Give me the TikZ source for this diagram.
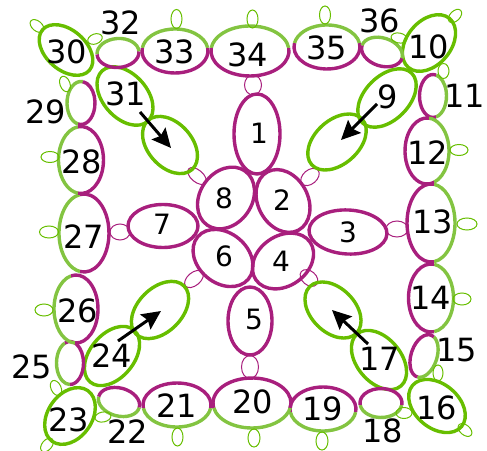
\documentclass[tikz,border=0pt]{standalone}
\usepackage{fontspec}
\setmainfont{DejaVu Sans}
\usetikzlibrary{arrows.meta}
\definecolor{mag}{HTML}{A81F7D}
\definecolor{lgr}{HTML}{83C441}
\definecolor{dgr}{HTML}{67BE00}
\tikzset{
  thickring/.style={line width=3.4pt},
  thinring/.style={line width=1pt},
  biglab/.style={inner sep=0pt,font=\fontsize{32}{32}\selectfont,text=black},
  smalllab/.style={inner sep=0pt,font=\fontsize{28}{28}\selectfont,text=black},
  pointer/.style={line width=3pt,-{Stealth[length=19pt,width=18pt,inset=3pt]}}
}
% whole ring: x y rx ry rot style
\newcommand\ring[6]{\draw[#6,shift={(#1,{450-#2})},rotate=#5] (0,0) circle[x radius=#3pt,y radius=#4pt];}
% two-tone ring: x y rx ry rot a1 a2
\newcommand\duo[7]{%
  \begin{scope}[shift={(#1,{450-#2})},rotate=#5]
  \draw[thickring,lgr] (#7:#3pt and #4pt) arc[start angle=#7,delta angle={360-(#7-#6)},x radius=#3pt,y radius=#4pt];
  \draw[thickring,mag] (#6:#3pt and #4pt) arc[start angle=#6,end angle=#7,x radius=#3pt,y radius=#4pt];
  \end{scope}}
\newcommand\lab[5][biglab]{\node[#1] (#2) at (#3,{450-#4}) {#5};}
\begin{document}
\begin{tikzpicture}[x=1pt,y=1pt]
\useasboundingbox (0,0) rectangle (487,450);
% centre flower
\ring{257}{134}{23}{40}{0}{thickring,mag}
\ring{283}{201}{33}{25}{-62}{thickring,mag}
\ring{348}{232}{39}{22}{-3}{thickring,mag}
\ring{283}{261}{33}{25}{35}{thickring,mag}
\ring{250}{321}{22}{34}{0}{thickring,mag}
\ring{223}{258}{33}{25}{-40}{thickring,mag}
\ring{163}{226}{35}{21.5}{0}{thickring,mag}
\ring{226}{198}{33}{26}{55}{thickring,mag}
% magenta thin loops
\ring{253}{85}{8.5}{10}{0}{thinring,mag}
\ring{397}{229}{11}{8}{0}{thinring,mag}
\ring{309}{278}{10}{7}{-40}{thinring,mag}
\ring{250}{367}{8.5}{11.5}{0}{thinring,mag}
\ring{194}{279}{11}{6.5}{40}{thinring,mag}
\ring{120}{232}{10}{8}{0}{thinring,mag}
\ring{197}{176}{11}{6}{-40}{thinring,mag}
\ring{310}{177}{10.5}{7}{40}{thinring,mag}
% dark green rings
\ring{66}{50}{31}{20}{-41}{thickring,dgr}
\ring{429}{43}{32}{22}{50}{thickring,dgr}
\ring{437}{406}{32}{22}{-40}{thickring,dgr}
\ring{70}{416}{31}{22}{55}{thickring,dgr}
\ring{125}{96}{34}{22}{-48}{thickring,dgr}
\ring{170}{145}{33}{22}{-48}{thickring,dgr}
\ring{387}{98}{35}{22}{45}{thickring,dgr}
\ring{337}{142}{34}{22}{42}{thickring,dgr}
\ring{333}{310}{33}{22}{-45}{thickring,dgr}
\ring{379}{360}{34}{22}{-50}{thickring,dgr}
\ring{112}{356}{34}{22}{50}{thickring,dgr}
\ring{160}{310}{34}{22}{45}{thickring,dgr}
% two-tone rings, top
\duo{118}{53}{21}{14.5}{4}{180}{360}
\duo{175}{51}{33}{22}{0}{172}{368}
\duo{250}{51}{39}{25}{0}{173}{367}
\duo{327}{47}{33}{22}{0}{170}{370}
\duo{382}{52}{21}{14}{-18}{180}{360}
% right
\duo{433}{96}{13.5}{21.5}{0}{77}{283}
\duo{427}{151}{22}{33}{0}{85}{289}
\duo{431}{223}{24}{39}{0}{83}{277}
\duo{431}{298}{22.5}{34}{0}{82}{278}
\duo{424}{356}{22}{13}{72}{-15}{180}
% bottom
\duo{381}{403}{21}{14.5}{0}{-8}{188}
\duo{323}{409}{33}{22}{0}{-8}{188}
\duo{252}{403}{39}{25}{0}{-11}{191}
\duo{177}{405}{34}{22}{0}{-8}{188}
\duo{119}{402}{21}{14}{-15}{0}{180}
% left
\duo{70}{363}{13.5}{21.5}{0}{-90}{112}
\duo{76}{309}{22}{34}{0}{-92}{103}
\duo{84}{233}{25}{39}{0}{-99}{99}
\duo{81}{160}{22.5}{33.5}{0}{-98}{98}
\duo{81}{103}{14}{21.5}{0}{-102}{82}
% green picots: dark
\ring{37}{26}{8}{5}{-40}{thinring,dgr}
\ring{95}{39}{7.5}{5}{20}{thinring,dgr}
\ring{176.5}{19}{5.5}{9.5}{0}{thinring,dgr}
\ring{252.5}{19}{5.5}{9}{0}{thinring,dgr}
\ring{325}{15}{5.5}{9}{0}{thinring,dgr}
\ring{399}{38}{8}{5}{-10}{thinring,dgr}
\ring{455}{16}{8}{5}{45}{thinring,dgr}
\ring{443.5}{71}{5.5}{7.5}{0}{thinring,dgr}
\ring{459}{150}{9}{5.5}{0}{thinring,dgr}
\ring{467}{224}{10}{6}{0}{thinring,dgr}
\ring{462}{299}{9}{6}{0}{thinring,dgr}
\ring{438}{373}{8}{5}{90}{thinring,dgr}
\ring{465}{430}{8}{5}{-40}{thinring,dgr}
\ring{404}{413}{8}{5.5}{0}{thinring,dgr}
\ring{322}{441}{6}{9}{0}{thinring,dgr}
\ring{254}{438}{6}{9}{0}{thinring,dgr}
\ring{177.5}{437}{5.5}{9}{0}{thinring,dgr}
\ring{103}{417}{8}{5}{10}{thinring,dgr}
\ring{56}{388}{8}{5}{-65}{thinring,dgr}
\ring{47}{445}{8}{5}{50}{thinring,dgr}
\ring{44}{310}{9}{6}{0}{thinring,dgr}
\ring{49}{232}{9.5}{6}{0}{thinring,dgr}
\ring{50}{157}{9}{5.5}{0}{thinring,dgr}
\ring{65}{84}{8}{5}{-70}{thinring,dgr}
% labels
\lab[smalllab]{l1}{259}{133}{1}
\lab[smalllab]{l2}{282}{200}{2}
\lab[smalllab]{l3}{348}{232}{3}
\lab[smalllab]{l4}{281}{261}{4}
\lab[smalllab]{l5}{254}{319}{5}
\lab[smalllab]{l6}{224}{256}{6}
\lab[smalllab]{l7}{162}{224}{7}
\lab[smalllab]{l8}{224}{198}{8}
\lab{l9}{388}{97}{9}
\lab{l10}{429}{47}{10}
\lab{l11}{465}{96}{11}
\lab{l12}{428}{153}{12}
\lab{l13}{433}{222}{13}
\lab{l14}{431}{298}{14}
\lab{l15}{457}{350}{15}
\lab{l16}{437}{408}{16}
\lab{l17}{380}{359}{17}
\lab{l18}{383}{431}{18}
\lab{l19}{323}{409}{19}
\lab{l20}{253}{402}{20}
\lab{l21}{177}{406}{21}
\lab{l22}{128}{432}{22}
\lab{l23}{69}{420}{23}
\lab{l24}{112}{356}{24}
\lab{l25}{32}{367}{25}
\lab{l26}{78}{311}{26}
\lab{l27}{84}{237}{27}
\lab{l28}{82}{162}{28}
\lab{l29}{46}{112}{29}
\lab{l30}{67}{52}{30}
\lab{l31}{126}{94}{31}
\lab{l32}{121}{23}{32}
\lab{l33}{175}{52}{33}
\lab{l34}{248}{55}{34}
\lab{l35}{327}{48}{35}
\lab{l36}{380}{21}{36}
% arrows
\coordinate (a1s) at (140,{450-112});
\coordinate (a1e) at (171,{450-148});
\coordinate (a2s) at (377,{450-104});
\coordinate (a2e) at (341,{450-140});
\coordinate (a3s) at (368,{450-344});
\coordinate (a3e) at (332,{450-310});
\coordinate (a4s) at (118,{450-341});
\coordinate (a4e) at (161,{450-311});
\draw[pointer] (a1s) -- (a1e);
\draw[pointer] (a2s) -- (a2e);
\draw[pointer] (a3s) -- (a3e);
\draw[pointer] (a4s) -- (a4e);
\end{tikzpicture}
\end{document}
